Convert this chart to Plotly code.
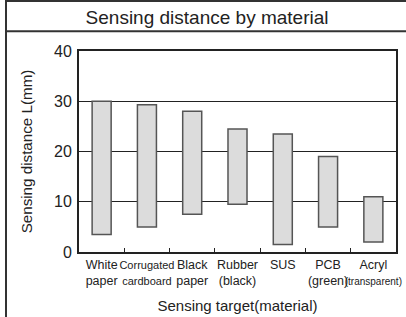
import plotly.graph_objects as go

categories = ["White paper", "Corrugated cardboard", "Black paper", "Rubber (black)", "SUS", "PCB (green)", "Acryl (transparent)"]
tick_labels = ["White<br>paper",
               "<span style=\"font-size:11px\">Corrugated</span><br><span style=\"font-size:11px\">cardboard</span>",
               "Black<br>paper", "Rubber<br>(black)", "SUS",
               "PCB<br>(green)", "Acryl<br><span style=\"font-size:10px\">(transparent)</span>"]
range_min = [3.5, 5.0, 7.5, 9.5, 1.5, 5.0, 2.0]
range_max = [30.0, 29.3, 28.0, 24.5, 23.5, 19.0, 11.0]
y_ticks = [0, 10, 20, 30, 40]

W, H = 406, 317
L, R, T, B = 79, 10, 51, 65
pw, ph = W - L - R, H - T - B

def px_x(x):
    return (x - L) / pw

def px_y(y):
    return (H - B - y) / ph

fig = go.Figure()
fig.add_trace(go.Bar(
    x=categories,
    y=[hi - lo for lo, hi in zip(range_min, range_max)],
    base=range_min,
    width=0.42,
    marker=dict(color="#dcdcdc", line=dict(color="#555555", width=1.5)),
    hoverinfo="skip",
))

narrow = "Liberation Sans Narrow, Arial Narrow, Liberation Sans, Arial"
fig.update_layout(
    width=W, height=H,
    margin=dict(l=L, r=R, t=T, b=B, pad=0, autoexpand=False),
    paper_bgcolor="white", plot_bgcolor="white",
    showlegend=False,
    font=dict(family="Liberation Sans, Arial", color="#222222"),
    title=dict(text="Sensing distance by material", x=0.51, xref="container",
               xanchor="center", y=1 - 17.5 / H, yanchor="middle",
               font=dict(size=19, color="#222222")),
    xaxis=dict(
        type="category", range=[-0.5, 6.5], automargin=False,
        tickmode="array", tickvals=categories, ticktext=tick_labels, tickangle=0,
        tickson="boundaries", ticks="inside", ticklen=4, tickcolor="#222222",
        tickfont=dict(family=narrow, size=12.5),
        showgrid=False, showline=True, linecolor="#222222", linewidth=2,
        mirror=True, zeroline=False,
        title=dict(text="Sensing target(material)", font=dict(size=15), standoff=13),
    ),
    yaxis=dict(
        range=[0, 40], tickvals=y_ticks, ticks="", automargin=False,
        tickfont=dict(size=16), ticklabelstandoff=2,
        showgrid=True, gridcolor="#222222", gridwidth=1,
        showline=True, linecolor="#222222", linewidth=2, mirror=True,
        zeroline=False,
        title=dict(text="Sensing distance L(mm)", font=dict(size=15.2), standoff=18),
    ),
)

fig.update_layout(shapes=[
    dict(type="line", xref="paper", yref="paper",
         x0=px_x(6), x1=px_x(W + 2), y0=px_y(31.3), y1=px_y(31.3),
         line=dict(color="#333333", width=2)),
    dict(type="line", xref="paper", yref="paper",
         x0=px_x(6), x1=px_x(W + 2), y0=px_y(1), y1=px_y(1),
         line=dict(color="#333333", width=2)),
    dict(type="line", xref="paper", yref="paper",
         x0=px_x(6), x1=px_x(6), y0=px_y(0), y1=px_y(H + 2),
         line=dict(color="#333333", width=2)),
])

fig.write_html("out.html", config={"displayModeBar": False},
               post_script="document.body.style.margin='0';document.body.style.overflow='hidden';")
